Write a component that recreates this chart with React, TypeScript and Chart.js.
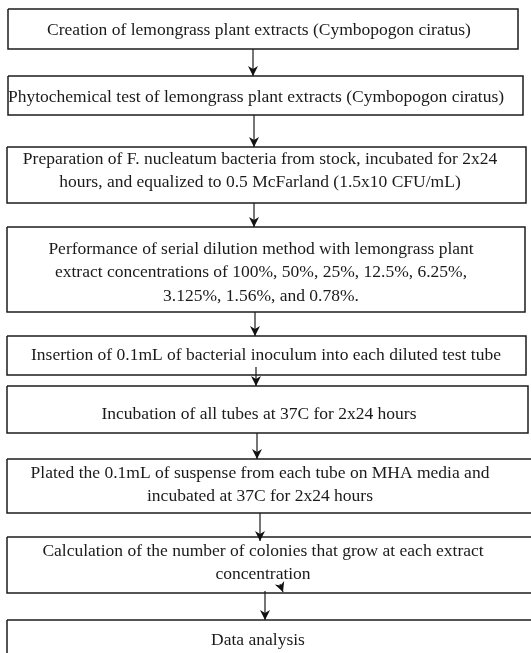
import React, { useEffect, useRef } from "react";
import { Chart, registerables } from "chart.js";

Chart.register(...registerables);

// Step texts (one entry per box, lines split)
const stepTexts: string[][] = [
  ["Creation of lemongrass plant extracts (Cymbopogon ciratus)"],
  ["Phytochemical test of lemongrass plant extracts (Cymbopogon ciratus)"],
  [
    "Preparation of F. nucleatum bacteria from stock, incubated for 2x24",
    "hours, and equalized to 0.5 McFarland (1.5x10 CFU/mL)",
  ],
  [
    "Performance of serial dilution method with lemongrass plant",
    "extract concentrations of 100%, 50%, 25%, 12.5%, 6.25%,",
    "3.125%, 1.56%, and 0.78%.",
  ],
  ["Insertion of 0.1mL of bacterial inoculum into each diluted test tube"],
  ["Incubation of all tubes at 37C for 2x24 hours"],
  [
    "Plated the 0.1mL of suspense from each tube on MHA media and",
    "incubated at 37C for 2x24 hours",
  ],
  [
    "Calculation of the number of colonies that grow at each extract",
    "concentration",
  ],
  ["Data analysis"],
];

// Box extents in chart units (x: 0..531, y: 0..653 downward)
const boxLeft = [8, 8, 7, 7, 7, 7, 7, 7, 7];
const boxRight = [518, 523, 526, 525, 526, 528, 545, 545, 545];
const boxTop = [9, 76, 147, 227, 336, 386, 459, 537, 620];
const boxBottom = [49, 115, 203, 312, 375, 433, 513, 593, 680];
const textFirstLineY = [30, 97, 159, 249, 355, 414, 473, 551, 640];
const textCenterX = [259, 256, 260, 261, 266, 259, 260, 263, 258];

// Connector arrows: x, start y, tip y
const arrowX = [253, 254, 254, 255, 256, 257, 260, 265];
const arrowStartY = [49, 115, 203, 312, 367, 433, 513, 591];
const arrowTipY = [76, 147, 227, 336, 386, 459, 541, 620];

// Stray arrowhead inside the "Calculation" box
const strayArrow = { x0: 280, y0: 584, x1: 283, y1: 592 };

const LINE_HEIGHT = 23.5;

export default function App() {
  const canvasRef = useRef<HTMLCanvasElement | null>(null);

  useEffect(() => {
    const canvas = canvasRef.current;
    if (!canvas) return;

    const boxDatasets = boxLeft.map((l, i) => ({
      type: "line" as const,
      label: "box" + i,
      data: [
        { x: l, y: boxTop[i] },
        { x: boxRight[i], y: boxTop[i] },
        { x: boxRight[i], y: boxBottom[i] },
        { x: l, y: boxBottom[i] },
        { x: l, y: boxTop[i] },
      ],
      borderColor: "#1c1c1c",
      borderWidth: 1.5,
      pointRadius: 0,
      fill: false,
      tension: 0,
      showLine: true,
    }));

    const arrowDatasets = arrowX.map((x, i) => ({
      type: "line" as const,
      label: "arrow" + i,
      data: [
        { x, y: arrowStartY[i] },
        { x, y: arrowTipY[i] },
      ],
      borderColor: "#1c1c1c",
      borderWidth: 1.2,
      pointRadius: 0,
      fill: false,
      showLine: true,
    }));

    const strayDataset = {
      type: "line" as const,
      label: "stray",
      data: [
        { x: strayArrow.x0, y: strayArrow.y0 },
        { x: strayArrow.x1, y: strayArrow.y1 },
      ],
      borderColor: "#1c1c1c",
      borderWidth: 1.2,
      pointRadius: 0,
      fill: false,
      showLine: true,
    };

    const flowPlugin = {
      id: "flowText",
      afterDatasetsDraw(chart: any) {
        const ctx = chart.ctx as CanvasRenderingContext2D;
        const xs = chart.scales.x;
        const ys = chart.scales.y;
        // arrowheads
        chart.data.datasets.forEach((ds: any, di: number) => {
          if (!(ds.label.startsWith("arrow") || ds.label === "stray")) return;
          const meta = chart.getDatasetMeta(di);
          const p0 = meta.data[0];
          const p1 = meta.data[1];
          const ang = Math.atan2(p1.y - p0.y, p1.x - p0.x);
          const len = 10;
          const half = 5;
          ctx.save();
          ctx.fillStyle = "#111";
          ctx.translate(p1.x, p1.y);
          ctx.rotate(ang);
          ctx.beginPath();
          ctx.moveTo(0, 0);
          ctx.lineTo(-len, -half);
          ctx.lineTo(-len * 0.7, 0);
          ctx.lineTo(-len, half);
          ctx.closePath();
          ctx.fill();
          ctx.restore();
        });
        // text
        ctx.save();
        ctx.fillStyle = "#1a1a1a";
        ctx.font = '17.5px "Liberation Serif"';
        ctx.textAlign = "center";
        ctx.textBaseline = "middle";
        stepTexts.forEach((lines, i) => {
          const cx = xs.getPixelForValue(textCenterX[i]);
          lines.forEach((line, k) => {
            const cy = ys.getPixelForValue(textFirstLineY[i] + k * LINE_HEIGHT);
            ctx.fillText(line, cx, cy);
          });
        });
        ctx.restore();
      },
    };

    const chart = new Chart(canvas, {
      type: "scatter",
      data: {
        datasets: [...boxDatasets, ...arrowDatasets, strayDataset] as any,
      },
      options: {
        animation: false,
        responsive: false,
        layout: { padding: 0 },
        plugins: {
          legend: { display: false },
          tooltip: { enabled: false },
        },
        scales: {
          x: { type: "linear", min: 0, max: 531, display: false },
          y: { type: "linear", min: 0, max: 653, reverse: true, display: false },
        },
      },
      plugins: [flowPlugin],
    });

    return () => chart.destroy();
  }, []);

  return (
    <div style={{ position: "fixed", left: 0, top: 0, width: 531, height: 653, background: "#fff" }}>
      <canvas ref={canvasRef} width={531} height={653} style={{ display: "block" }} />
    </div>
  );
}
